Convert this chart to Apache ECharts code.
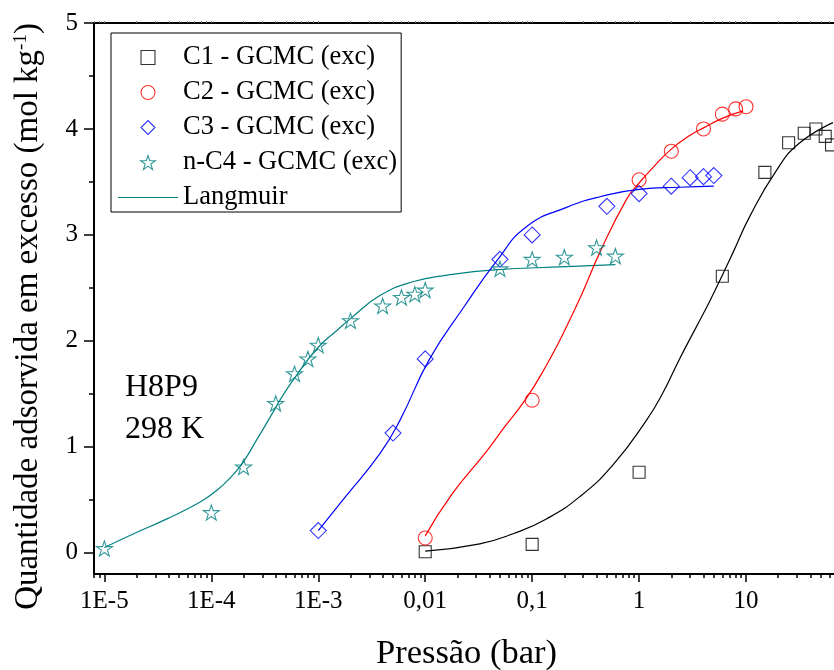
<!DOCTYPE html>
<html>
<head>
<meta charset="utf-8">
<script src="https://cdn.jsdelivr.net/npm/echarts@6/dist/echarts.min.js"></script>
<style>
  html, body { margin: 0; padding: 0; overflow: hidden; background: #fff; }
  #chart { width: 900px; height: 670px; }
</style>
</head>
<body>
<div id="chart"></div>
<script>
// Excess adsorption isotherms at 298 K (GCMC points + Langmuir fits), pressure in bar
const c1P = [0.01, 0.1, 1, 6, 15, 25, 35, 45, 55, 63];
const c1Q = [0.01, 0.08, 0.76, 2.61, 3.59, 3.87, 3.96, 4.00, 3.93, 3.85];

const c2P = [0.01, 0.1, 1, 2, 4, 6, 8, 10];
const c2Q = [0.14, 1.44, 3.52, 3.79, 4.00, 4.14, 4.19, 4.21];

const c3P = [0.001, 0.005, 0.01, 0.05, 0.1, 0.5, 1, 2, 3, 4, 5];
const c3Q = [0.21, 1.13, 1.83, 2.77, 3.00, 3.27, 3.39, 3.46, 3.54, 3.55, 3.56];

const c4P = [1e-5, 1e-4, 2e-4, 4e-4, 6e-4, 8e-4, 1e-3, 2e-3, 4e-3, 6e-3, 8e-3, 0.01, 0.05, 0.1, 0.2, 0.4, 0.6];
const c4Q = [0.04, 0.38, 0.81, 1.41, 1.69, 1.83, 1.96, 2.19, 2.33, 2.41, 2.44, 2.48, 2.68, 2.77, 2.79, 2.88, 2.80];

// Langmuir fit curves
const fitC1P = [0.01, 0.0324, 0.0664, 0.136, 0.279, 0.57, 1.17, 1.67, 2.39, 3.42, 4.55, 6, 7.6, 10.9, 19, 31, 65];
const fitC1Q = [0.015, 0.085, 0.18, 0.32, 0.53, 0.83, 1.25, 1.51, 1.83, 2.13, 2.37, 2.62, 2.84, 3.18, 3.60, 3.86, 4.06];

const fitC2P = [0.01, 0.018, 0.037, 0.0535, 0.0884, 0.136, 0.195, 0.285, 0.432, 0.767, 1.0, 1.36, 2.0, 3.0, 4.0, 6.0, 9.4];
const fitC2Q = [0.16, 0.56, 0.95, 1.17, 1.46, 1.77, 2.07, 2.42, 2.84, 3.34, 3.49, 3.64, 3.81, 3.94, 4.01, 4.10, 4.17];

const fitC3P = [0.001, 0.0018, 0.0038, 0.0058, 0.011, 0.023, 0.047, 0.089, 0.21, 0.43, 1, 2.4, 5];
const fitC3Q = [0.21, 0.53, 0.94, 1.25, 1.83, 2.32, 2.76, 3.08, 3.26, 3.36, 3.43, 3.45, 3.46];

const fitC4P = [1e-5, 1.88e-5, 3.85e-5, 7.87e-5, 1.13e-4, 1.61e-4, 2e-4, 2.67e-4, 3.55e-4, 4.7e-4, 6.3e-4, 1e-3, 1.5e-3, 2e-3, 3.8e-3, 7.8e-3, 0.016, 0.044, 0.21, 0.6];
const fitC4Q = [0.05, 0.18, 0.32, 0.48, 0.59, 0.74, 0.86, 1.07, 1.28, 1.49, 1.68, 1.94, 2.10, 2.21, 2.43, 2.56, 2.62, 2.67, 2.70, 2.72];

// Axis ticks and labels
const xTickValues = [1e-5, 1e-4, 1e-3, 0.01, 0.1, 1, 10];
const xTickLabels = ['1E-5', '1E-4', '1E-3', '0,01', '0,1', '1', '10'];
const yTickValues = [0, 1, 2, 3, 4, 5];
const yMinorValues = [0.5, 1.5, 2.5, 3.5, 4.5];

const seriesNames = ['C1 - GCMC (exc)', 'C2 - GCMC (exc)', 'C3 - GCMC (exc)', 'n-C4 - GCMC (exc)'];
const fitName = 'Langmuir';

const FONT = '"Liberation Serif", "Times New Roman", serif';
const X_MIN = 8e-6, X_MAX = 100;
const Y_MIN = -0.2, Y_MAX = 5;
const BLACK = '#000000', RED = '#ff0000', BLUE = '#0000ff', TEAL = '#008080';
const CLEAR = 'rgba(0,0,0,0)';

// open marker outlines (paths keep their aspect ratio inside the legend box)
const SQUARE = 'path://M0,0 L10,0 L10,10 L0,10 Z';
const DIAMOND = 'path://M5,0 L10,5 L5,10 L0,5 Z';
const STAR = 'path://M50,0 L61.8,35.4 L100,35.4 L69.1,57.3 L80.9,95.1 L50,72.4 L19.1,95.1 L30.9,57.3 L0,35.4 L38.2,35.4 Z';
const LEGEND_LINE = 'path://M0,0 L60,0 L60,1.2 L0,1.2 Z';

const seriesColors = [BLACK, RED, BLUE, TEAL];
const seriesSymbols = [SQUARE, 'circle', DIAMOND, STAR];
const seriesSizes = [12, 14, 16, 16];

const pairs = (xs, ys) => xs.map((x, i) => [x, ys[i]]);

// minor decade ticks (2..9 x 10^n) inside the visible range
const xMinorValues = [];
for (let e = -6; e <= 1; e++) {
  for (let k = 2; k <= 9; k++) {
    const v = k * Math.pow(10, e);
    if (v >= X_MIN && v <= X_MAX) xMinorValues.push(v);
  }
}

function xLabel(v) {
  const i = xTickValues.findIndex(t => Math.abs(Math.log10(t) - Math.log10(v)) < 1e-6);
  return i >= 0 ? xTickLabels[i] : '';
}

function baseLogAxis(extra) {
  return Object.assign({
    type: 'log', logBase: 10, min: X_MIN, max: X_MAX, gridIndex: 0,
    splitLine: { show: false },
    axisLine: { show: false, onZero: false },
    axisTick: { show: false },
    axisLabel: { show: false }
  }, extra);
}

function baseValueAxis(extra) {
  return Object.assign({
    type: 'value', min: Y_MIN, max: Y_MAX, gridIndex: 0,
    splitLine: { show: false },
    axisLine: { show: false, onZero: false },
    axisTick: { show: false },
    axisLabel: { show: false }
  }, extra);
}

function scatter(i, xs, ys) {
  return {
    name: seriesNames[i], type: 'scatter', xAxisIndex: 0, yAxisIndex: 0,
    data: pairs(xs, ys), symbol: seriesSymbols[i], symbolSize: seriesSizes[i],
    symbolKeepAspect: true,
    itemStyle: { color: CLEAR, borderColor: seriesColors[i], borderWidth: 1.1 },
    emphasis: { disabled: true }, z: 3
  };
}

function fitLine(xs, ys, color) {
  return {
    name: fitName, type: 'line', xAxisIndex: 0, yAxisIndex: 0,
    data: pairs(xs, ys), showSymbol: false, symbol: 'none',
    smooth: 0.5,
    color, lineStyle: { color, width: 1.2 },
    emphasis: { disabled: true }, z: 2
  };
}

const legendData = seriesNames.map((name, i) => ({
  name, icon: seriesSymbols[i],
  itemStyle: { color: CLEAR, borderColor: seriesColors[i], borderWidth: 1.1 }
})).concat([{ name: fitName, icon: LEGEND_LINE, itemStyle: { color: TEAL, borderWidth: 0 } }]);

const chart = echarts.init(document.getElementById('chart'), null, { renderer: 'canvas' });

chart.setOption({
  animation: false,
  backgroundColor: '#ffffff',
  grid: { left: 94, top: 23, right: 47, bottom: 96, containLabel: false, outerBoundsMode: 'none' },
  title: {
    text: 'H8P9\n298 K', left: 125, top: 367, padding: 0,
    textStyle: { fontFamily: FONT, fontSize: 32, fontWeight: 'normal', color: BLACK, lineHeight: 42 }
  },
  legend: {
    orient: 'vertical', left: 111, top: 33,
    itemWidth: 60, itemHeight: 14, itemGap: 8,
    padding: [11, 4, 1, 7],
    symbolKeepAspect: true,
    borderColor: BLACK, borderWidth: 1,
    selectedMode: false,
    textStyle: { fontFamily: FONT, fontSize: 26.5, color: BLACK, lineHeight: 26 },
    data: legendData
  },
  xAxis: [
    baseLogAxis({
      position: 'bottom',
      axisLine: { show: true, onZero: false, lineStyle: { color: BLACK, width: 2 } },
      axisTick: { show: true, customValues: xTickValues, length: 8, lineStyle: { color: BLACK, width: 1.5 } },
      axisLabel: {
        show: true, customValues: xTickValues, formatter: xLabel, margin: 15,
        fontFamily: FONT, fontSize: 25, color: BLACK
      },
      name: 'Pressão (bar)', nameLocation: 'middle', nameGap: 62,
      nameTextStyle: { fontFamily: FONT, fontSize: 34.5, color: BLACK, padding: [0, 14, 0, 0] }
    }),
    baseLogAxis({
      position: 'bottom',
      axisTick: { show: true, customValues: xMinorValues, length: 4, lineStyle: { color: BLACK, width: 1.5 } }
    }),
    baseLogAxis({
      position: 'top',
      axisLine: { show: true, onZero: false, lineStyle: { color: BLACK, width: 2 } },
      axisTick: { show: true, customValues: xTickValues.concat(xMinorValues), length: 2, lineStyle: { color: '#777', width: 1 } }
    })
  ],
  yAxis: [
    baseValueAxis({
      position: 'left',
      axisLine: { show: true, onZero: false, lineStyle: { color: BLACK, width: 2 } },
      axisTick: { show: true, customValues: yTickValues, length: 10, lineStyle: { color: BLACK, width: 1.5 } },
      axisLabel: { show: true, customValues: yTickValues, margin: 16, fontFamily: FONT, fontSize: 25, color: BLACK },
      name: 'Quantidade adsorvida em excesso (mol kg{sup|-1})',
      nameLocation: 'middle', nameRotate: 90, nameGap: 49,
      nameTextStyle: {
        fontFamily: FONT, fontSize: 33, color: BLACK, padding: [0, 36, 0, 0],
        rich: { sup: { fontFamily: FONT, fontSize: 19, color: BLACK, verticalAlign: 'top' } }
      }
    }),
    baseValueAxis({
      position: 'left',
      axisTick: { show: true, customValues: yMinorValues, length: 5, lineStyle: { color: BLACK, width: 1.5 } }
    })
  ],
  series: [
    scatter(0, c1P, c1Q),
    scatter(1, c2P, c2Q),
    scatter(2, c3P, c3Q),
    scatter(3, c4P, c4Q),
    fitLine(fitC4P, fitC4Q, TEAL),
    fitLine(fitC1P, fitC1Q, BLACK),
    fitLine(fitC2P, fitC2Q, RED),
    fitLine(fitC3P, fitC3Q, BLUE)
  ]
});
</script>
</body>
</html>
